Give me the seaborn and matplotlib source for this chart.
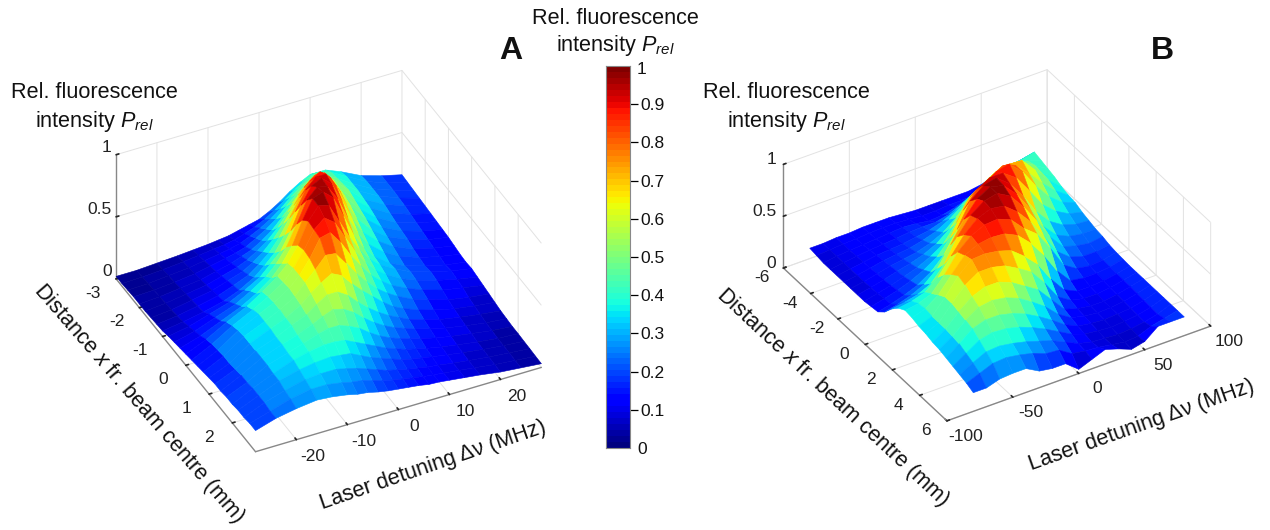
import numpy as np
import matplotlib
matplotlib.use("Agg")
import matplotlib.pyplot as plt
import seaborn as sns
from mpl_toolkits.mplot3d import proj3d

# panel A, values
detuning_a = [-28, -24, -20, -16, -13, -10, -8, -6, -4, -2, 0, 2, 4, 6, 8, 10, 13, 16, 20, 24, 28]
distance_a = [-3, -2.75, -2.5, -2.25, -2, -1.75, -1.5, -1.25, -1, -0.75, -0.5, -0.25, 0,
              0.25, 0.5, 0.75, 1, 1.25, 1.5, 1.75, 2, 2.25, 2.5, 2.75, 3]
intensity_a = [
    [.02, .02, .03, .04, .05, .06, .07, .08, .10, .12, .14, .18, .23, .29, .34, .38, .38, .33, .25, .20, .16],
    [.02, .025, .035, .05, .065, .08, .09, .105, .13, .16, .20, .25, .31, .37, .42, .45, .42, .35, .26, .20, .155],
    [.025, .03, .045, .06, .08, .10, .115, .135, .17, .21, .26, .32, .39, .45, .49, .50, .43, .35, .26, .20, .15],
    [.03, .035, .05, .07, .095, .12, .14, .165, .21, .26, .32, .40, .47, .53, .56, .54, .44, .35, .26, .195, .145],
    [.03, .04, .06, .08, .11, .14, .17, .20, .25, .31, .39, .48, .56, .61, .62, .57, .45, .34, .25, .19, .14],
    [.03, .045, .07, .095, .13, .165, .20, .25, .31, .39, .49, .60, .68, .71, .66, .56, .43, .33, .235, .18, .135],
    [.035, .05, .08, .11, .15, .19, .24, .30, .38, .48, .60, .72, .79, .79, .68, .55, .41, .31, .22, .17, .13],
    [.04, .06, .09, .125, .17, .22, .28, .35, .45, .58, .72, .83, .88, .81, .67, .53, .39, .29, .21, .16, .125],
    [.045, .07, .10, .14, .19, .26, .33, .41, .53, .69, .84, .92, .92, .80, .63, .49, .36, .27, .20, .15, .12],
    [.06, .09, .14, .19, .25, .32, .40, .48, .62, .80, .93, .97, .90, .74, .57, .44, .33, .25, .18, .14, .11],
    [.07, .11, .17, .23, .30, .38, .46, .57, .73, .90, .98, .96, .84, .66, .51, .40, .30, .23, .17, .13, .10],
    [.08, .13, .20, .27, .34, .43, .52, .64, .82, .97, 1.0, .93, .76, .58, .45, .36, .27, .21, .16, .12, .095],
    [.09, .16, .25, .33, .41, .50, .58, .70, .87, .97, .95, .80, .65, .52, .42, .35, .28, .22, .17, .13, .10],
    [.10, .18, .28, .36, .43, .51, .60, .72, .86, .93, .87, .73, .59, .48, .39, .33, .26, .21, .16, .12, .09],
    [.11, .19, .30, .38, .44, .52, .60, .71, .85, .87, .77, .64, .53, .43, .36, .30, .24, .19, .14, .11, .08],
    [.12, .20, .31, .38, .44, .51, .60, .68, .77, .76, .66, .55, .46, .38, .32, .27, .21, .17, .12, .09, .07],
    [.13, .20, .31, .38, .43, .50, .57, .63, .68, .64, .55, .47, .40, .33, .27, .23, .18, .145, .105, .08, .06],
    [.14, .21, .31, .37, .43, .48, .54, .59, .59, .54, .46, .39, .33, .28, .24, .20, .16, .125, .095, .07, .05],
    [.14, .22, .31, .37, .41, .46, .50, .53, .51, .46, .39, .33, .28, .24, .21, .18, .145, .115, .085, .06, .045],
    [.15, .22, .31, .36, .40, .44, .46, .46, .43, .39, .33, .28, .24, .21, .185, .16, .13, .105, .08, .055, .04],
    [.15, .23, .30, .36, .39, .41, .41, .40, .36, .32, .28, .24, .21, .18, .16, .14, .115, .095, .07, .05, .04],
    [.16, .23, .30, .34, .36, .37, .36, .35, .31, .27, .24, .21, .18, .16, .145, .13, .11, .09, .068, .05, .037],
    [.16, .23, .28, .32, .33, .33, .31, .29, .26, .23, .20, .18, .16, .145, .13, .12, .10, .085, .065, .05, .035],
    [.17, .22, .27, .30, .30, .28, .26, .25, .225, .20, .18, .165, .15, .135, .125, .115, .10, .085, .062, .047, .032],
    [.17, .22, .25, .27, .26, .24, .22, .21, .19, .175, .165, .155, .145, .13, .125, .115, .10, .085, .06, .045, .03],
]

# panel B
detuning_b = [-80, -70, -60, -50, -40, -30, -20, -10, 0, 10, 20, 30, 40, 50, 60, 70, 80]
distance_b = [-6, -5.5, -5, -4.5, -4, -3.5, -3, -2.5, -2, -1.5, -1, -0.5, 0, 0.5, 1, 1.5, 2, 2.5, 3, 3.5, 4, 4.5, 5, 5.5, 6]
intensity_b = [
    [.10, .10, .11, .11, .12, .12, .12, .11, .10, .10, .10, .10, .10, .12, .16, .20, .22],
    [.09, .10, .11, .115, .125, .13, .13, .12, .11, .11, .12, .12, .13, .16, .27, .29, .32],
    [.08, .10, .11, .12, .13, .14, .15, .14, .12, .13, .16, .20, .26, .33, .38, .39, .42],
    [.08, .10, .115, .13, .14, .15, .165, .17, .17, .20, .26, .30, .38, .46, .46, .44, .40],
    [.08, .10, .12, .14, .15, .16, .18, .20, .24, .30, .38, .44, .52, .55, .54, .46, .38],
    [.08, .10, .125, .15, .165, .18, .21, .25, .32, .41, .50, .58, .64, .64, .56, .45, .36],
    [.08, .10, .13, .16, .18, .20, .24, .30, .40, .52, .60, .70, .73, .72, .58, .44, .33],
    [.08, .105, .135, .17, .20, .24, .30, .40, .55, .66, .74, .82, .78, .66, .52, .40, .31],
    [.08, .11, .14, .18, .22, .28, .36, .52, .72, .79, .87, .90, .78, .60, .45, .35, .30],
    [.09, .12, .155, .20, .26, .34, .48, .70, .85, .92, .92, .83, .66, .48, .37, .30, .27],
    [.10, .13, .17, .22, .30, .42, .62, .85, .95, .98, .88, .72, .52, .38, .30, .26, .25],
    [.16, .19, .23, .29, .40, .58, .78, .93, 1.0, .97, .84, .66, .44, .31, .25, .23, .23],
    [.25, .27, .30, .36, .50, .72, .88, .97, 1.0, .93, .78, .60, .40, .26, .22, .20, .22],
    [.32, .34, .38, .48, .64, .80, .91, .96, .94, .84, .70, .52, .32, .22, .18, .18, .20],
    [.36, .38, .43, .57, .74, .85, .91, .92, .87, .74, .64, .46, .25, .17, .15, .16, .19],
    [.35, .39, .48, .63, .77, .83, .85, .84, .78, .66, .50, .30, .16, .14, .14, .155, .185],
    [.33, .38, .52, .68, .79, .80, .78, .74, .64, .52, .33, .18, .12, .12, .13, .15, .18],
    [.32, .38, .52, .65, .73, .73, .70, .63, .55, .40, .22, .14, .11, .11, .125, .15, .18],
    [.30, .38, .50, .60, .65, .65, .60, .52, .44, .30, .16, .12, .10, .10, .12, .15, .18],
    [.29, .37, .48, .56, .58, .56, .51, .43, .34, .22, .14, .11, .095, .10, .115, .145, .18],
    [.27, .36, .46, .50, .50, .47, .42, .35, .27, .18, .12, .10, .09, .10, .11, .14, .18],
    [.25, .33, .41, .44, .43, .40, .35, .29, .22, .15, .105, .09, .08, .09, .105, .135, .18],
    [.23, .30, .36, .37, .35, .32, .28, .24, .18, .12, .09, .08, .07, .08, .10, .13, .18],
    [.21, .26, .31, .32, .30, .27, .22, .21, .13, .11, .10, .08, .06, .07, .12, .15, .18],
    [.18, .18, .22, .23, .23, .16, .14, .14, .04, .09, .14, .10, .05, .08, .18, .18, .18],
]

# tick labels
zticks = [0, 0.5, 1]
zticklabels = ['0', '0.5', '1']
xticks_a = [-20, -10, 0, 10, 20]
yticks_a = [-3, -2, -1, 0, 1, 2]
xticks_b = [-100, -50, 0, 50, 100]
yticks_b = [-6, -4, -2, 0, 2, 4, 6]
cbar_ticks = [0.1, 0.2, 0.3, 0.4, 0.5, 0.6, 0.7, 0.8, 0.9]

W, H = 1270, 530

sns.set_theme(style='white')
plt.rcParams['font.family'] = ['Liberation Sans', 'DejaVu Sans']
plt.rcParams['mathtext.fontset'] = 'custom'
plt.rcParams['mathtext.rm'] = 'Liberation Sans'
plt.rcParams['mathtext.it'] = 'Liberation Sans:italic'

# seaborn refuses the name 'jet', so the 64 level map comes from matplotlib
jet = plt.get_cmap('jet', 64)

fig = plt.figure(figsize=(W / 100, H / 100), dpi=100)
tick_color = '#222222'


def px_text(x, y, s, ha='center', color='#111111', **kw):
    fig.text(x / W, 1 - y / H, s, ha=ha, va='center', color=color, **kw)


# projects 3d points to pixels, y measured from the top
def corners_px(ax, corners):
    fig.canvas.draw()
    M = ax.get_proj()
    out = []
    for c in corners:
        xs, ys, _ = proj3d.proj_transform(c[0], c[1], c[2], M)
        p = ax.transData.transform((xs, ys))
        out.append((p[0], H - p[1]))
    return np.array(out)


def surface_panel(det, dist, z, xlim, ymax, xticks, yticks, view, aspect, targets, zlabel_shift, ylabel_z):
    ax = fig.add_axes([0, 0, 600 / W, 600 / H], projection='3d', proj_type='ortho', facecolor='none')
    ax.view_init(elev=view[0], azim=view[1])
    D, X = np.meshgrid(det, dist)
    Z = np.array(z)
    # colour of each quad from the mean of its corners, passed as facecolors so the edges match too
    quad = (Z[:-1, :-1] + Z[1:, :-1] + Z[:-1, 1:] + Z[1:, 1:]) / 4
    ax.plot_surface(D, X, Z, facecolors=jet(quad), rstride=1, cstride=1,
                    linewidth=0.4, antialiased=True, shade=False)
    ax.set_xlim(*xlim)
    ax.set_ylim(ymax, -ymax)
    ax.set_zlim(0, 1)
    ax.set_xticks(xticks)
    ax.set_yticks(yticks)
    ax.set_zticks(zticks)
    ax.set_xticklabels([])
    ax.set_yticklabels([])
    ax.set_zticklabels([])
    for axis in (ax.xaxis, ax.yaxis, ax.zaxis):
        axis.set_pane_color((1, 1, 1, 0))
        axis.pane.set_edgecolor('#dddddd')
        axis.line.set_color('#888888')
        axis.line.set_linewidth(1.0)
        axis._axinfo['grid'].update(color='#e2e2e2', linewidth=0.7)
        axis._axinfo['tick'].update(color='#888888', inward_factor=0.0, outward_factor=0.12)

    # L, F, R corners of the floor
    corners = [(xlim[0], -ymax, 0), (xlim[0], ymax, 0), (xlim[1], ymax, 0)]
    targets = np.array(targets, dtype=float)
    ax.set_box_aspect(aspect, zoom=1)
    p = corners_px(ax, corners)
    scale = np.linalg.norm(targets[2] - targets[0]) / np.linalg.norm(p[2] - p[0])
    ax.set_box_aspect(aspect, zoom=scale)
    p = corners_px(ax, corners)
    dx, dy = (targets - p).mean(axis=0)
    pos = ax.get_position()
    ax.set_position([pos.x0 + dx / W, pos.y0 - dy / H, pos.width, pos.height])

    # tick labels go through the projection, the automatic offsets sit too far from the axes
    xspan = xlim[1] - xlim[0]
    for t in xticks:
        q = corners_px(ax, [(t, ymax * 1.2, 0)])[0]
        px_text(q[0] + 2, q[1], str(t), fontsize=12.5, color=tick_color)
    for t in yticks:
        q = corners_px(ax, [(xlim[0] - 0.08 * xspan, t, ylabel_z)])[0]
        px_text(q[0], q[1], str(t), fontsize=12.5, color=tick_color)
    for t, lab in zip(zticks, zticklabels):
        q = corners_px(ax, [(xlim[0] - zlabel_shift * xspan, -ymax, t + 0.07)])[0]
        px_text(q[0], q[1], lab, ha='right', fontsize=12.5, color=tick_color)
    return ax


surface_panel(detuning_a, distance_a, intensity_a, (-28, 28), 3, xticks_a, yticks_a,
              (37.2, -116), (1, 1, 0.49), [(116, 278), (256, 452), (541, 368)], 0.015, -0.06)
surface_panel(detuning_b, distance_b, intensity_b, (-100, 100), 6, xticks_b, yticks_b,
              (35.4, -121.8), (1, 1, 0.41), [(783, 267), (948, 421), (1210, 327)], 0.027, -0.02)

# colour bar
cax = fig.add_axes([606 / W, 1 - 448 / H, 24 / W, 382 / H])
levels = (np.arange(64)[::-1] + 0.5) / 64
sns.heatmap(levels.reshape(-1, 1), cmap=jet, vmin=0, vmax=1, cbar=False, ax=cax, xticklabels=False)
cax.set_yticks([64 - t * 64 for t in cbar_ticks])
cax.set_yticklabels([str(t) for t in cbar_ticks], rotation=0, fontsize=12.5, color='#111111')
cax.yaxis.tick_right()
cax.tick_params(axis='y', direction='inout', length=11, width=0.9, color='black', pad=2, right=True)
for s in cax.spines.values():
    s.set_visible(True)
    s.set_edgecolor('#888888')
    s.set_linewidth(0.8)
px_text(642, 70, '1', fontsize=12.5)
px_text(642, 449, '0', fontsize=12.5)

# titles and axis labels
title_size = 15.6
px_text(94, 93, 'Rel. fluorescence', fontsize=title_size)
px_text(94, 121, r'intensity $P_{rel}$', fontsize=title_size)
px_text(786, 93, 'Rel. fluorescence', fontsize=title_size)
px_text(786, 121, r'intensity $P_{rel}$', fontsize=title_size)
px_text(615, 18, 'Rel. fluorescence', fontsize=title_size)
px_text(615, 45, r'intensity $P_{rel}$', fontsize=title_size)
px_text(511, 51, 'A', fontsize=23, fontweight='bold')
px_text(1162, 51, 'B', fontsize=23, fontweight='bold')

px_text(139, 404, r'Distance $x$ fr. beam centre (mm)', fontsize=title_size, rotation=-49, rotation_mode='anchor')
px_text(433, 465, 'Laser detuning Δν (MHz)', fontsize=title_size, rotation=19, rotation_mode='anchor')
px_text(833, 397, r'Distance $x$ fr. beam centre (mm)', fontsize=title_size, rotation=-43, rotation_mode='anchor')
px_text(1142, 425, 'Laser detuning Δν (MHz)', fontsize=title_size, rotation=19.5, rotation_mode='anchor')

fig.savefig('out.png', dpi=100)
